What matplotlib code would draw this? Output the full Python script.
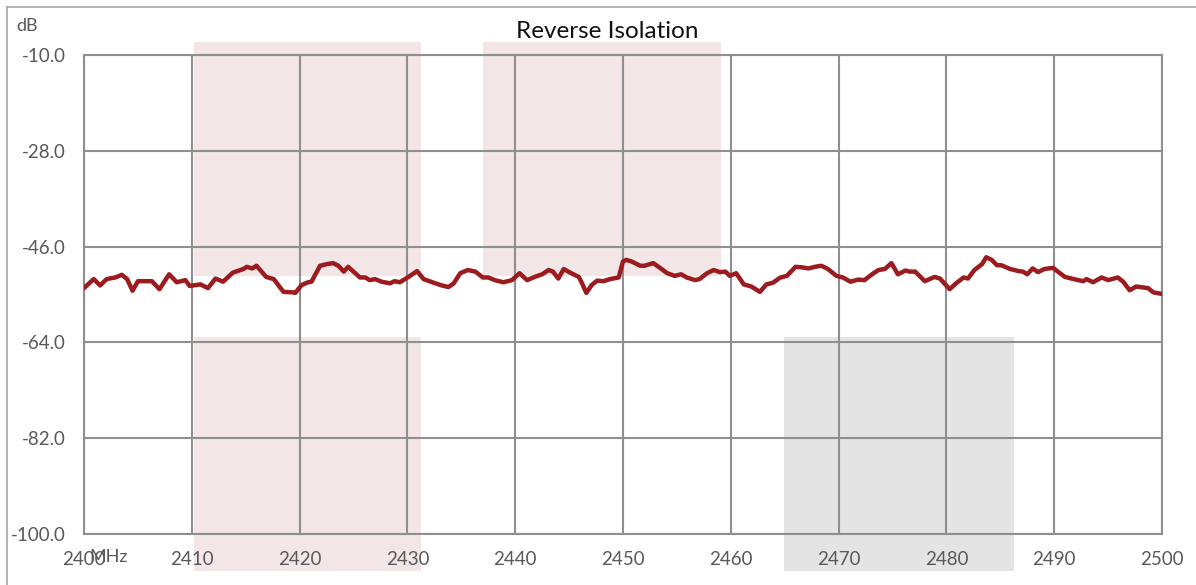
import matplotlib
matplotlib.use("Agg")
import matplotlib.pyplot as plt
from matplotlib.patches import Rectangle
from matplotlib.lines import Line2D

plt.rcParams['font.family'] = ['Lato', 'DejaVu Sans']

freq = [2400.0, 2400.9, 2401.5, 2402.1, 2402.9, 2403.5, 2404.0, 2404.5, 2405.0, 2406.3,
        2407.0, 2407.9, 2408.6, 2409.4, 2409.8, 2410.8, 2411.5, 2412.2, 2412.9, 2413.8,
        2414.8, 2415.1, 2415.6, 2416.0, 2416.9, 2417.6, 2418.5, 2419.4, 2419.6, 2420.2,
        2420.8, 2421.1, 2421.9, 2422.5, 2423.1, 2423.6, 2424.1, 2424.5, 2425.0, 2425.6,
        2426.1, 2426.5, 2427.0, 2427.6, 2428.4, 2428.8, 2429.3, 2430.1, 2430.9, 2431.5,
        2431.9, 2432.6, 2433.2, 2433.8, 2434.3, 2434.9, 2435.6, 2436.3, 2437.0, 2437.5,
        2438.1, 2438.9, 2439.7, 2440.4, 2441.1, 2441.8, 2442.5, 2443.1, 2443.5, 2444.0,
        2444.5, 2445.1, 2445.9, 2446.2, 2446.6, 2447.1, 2447.6, 2448.2, 2448.8, 2449.6,
        2450.0, 2450.3, 2450.8, 2451.6, 2452.0, 2452.8, 2453.3, 2454.1, 2454.8, 2455.4,
        2455.9, 2456.7, 2457.1, 2457.8, 2458.4, 2459.0, 2459.5, 2459.9, 2460.5, 2461.2,
        2461.9, 2462.7, 2463.3, 2463.9, 2464.6, 2465.2, 2466.0, 2466.6, 2467.2, 2467.8,
        2468.4, 2469.0, 2469.8, 2470.4, 2471.1, 2471.8, 2472.4, 2473.1, 2473.7, 2474.3,
        2474.9, 2475.5, 2476.2, 2476.6, 2477.1, 2478.0, 2478.9, 2479.4, 2480.3, 2480.9,
        2481.6, 2482.0, 2482.6, 2483.3, 2483.7, 2484.2, 2484.7, 2485.1, 2485.9, 2486.7,
        2487.1, 2487.5, 2488.0, 2488.5, 2489.1, 2489.9, 2490.4, 2491.0, 2491.8, 2492.7,
        2493.0, 2493.6, 2494.4, 2495.0, 2495.9, 2496.4, 2497.0, 2497.6, 2498.7, 2499.2,
        2500.0]
iso = [-53.8, -52.1, -53.3, -52.1, -51.8, -51.3, -52.1, -54.3, -52.5, -52.5,
       -54.0, -51.2, -52.7, -52.3, -53.4, -53.1, -53.8, -52.0, -52.6, -50.9,
       -50.2, -49.8, -50.1, -49.6, -51.7, -52.1, -54.5, -54.6, -54.7, -53.2,
       -52.7, -52.6, -49.6, -49.3, -49.1, -49.6, -50.7, -49.8, -50.7, -51.8,
       -51.8, -52.3, -52.1, -52.6, -52.9, -52.5, -52.7, -51.7, -50.6, -52.1,
       -52.4, -52.9, -53.3, -53.6, -52.9, -51.0, -50.4, -50.7, -51.8, -51.8,
       -52.3, -52.7, -52.3, -51.0, -52.3, -51.7, -51.2, -50.4, -50.7, -52.0,
       -50.2, -50.9, -51.7, -52.9, -54.7, -53.2, -52.4, -52.5, -52.1, -51.8,
       -48.8, -48.5, -48.8, -49.6, -49.6, -49.1, -49.8, -51.0, -51.5, -51.2,
       -51.8, -52.3, -52.1, -51.0, -50.4, -50.8, -50.7, -51.5, -51.0, -53.1,
       -53.5, -54.5, -53.1, -52.8, -51.8, -51.5, -49.8, -49.9, -50.1, -49.8,
       -49.6, -50.2, -51.5, -51.8, -52.6, -52.2, -52.3, -51.2, -50.4, -50.2,
       -49.1, -51.2, -50.5, -50.7, -50.7, -52.5, -51.7, -52.0, -54.0, -52.9,
       -51.8, -52.0, -50.4, -49.3, -48.0, -48.5, -49.5, -49.5, -50.2, -50.6,
       -50.7, -51.2, -50.1, -50.8, -50.2, -50.0, -50.8, -51.7, -52.1, -52.5,
       -52.1, -52.7, -51.8, -52.3, -51.8, -52.6, -54.2, -53.5, -53.8, -54.6,
       -54.9]

# shaded bands: (f_lo, f_hi, dB_lo, dB_hi)
band_f_lo = [2410.2, 2410.2, 2437.0, 2464.9]
band_f_hi = [2431.3, 2431.3, 2459.1, 2486.3]
band_db_lo = [-51.5, -107.0, -51.5, -107.0]
band_db_hi = [-7.6, -63.0, -7.6, -63.0]
band_colors = ['#F2E6E6', '#F2E6E6', '#F2E6E6', '#E4E4E4']

yticks = [-10, -28, -46, -64, -82, -100]
xticks = list(range(2400, 2501, 10))

grid_c = '#8F8F93'
text_c = '#595959'

fig = plt.figure(figsize=(11.96, 5.85), dpi=100)
ax = fig.add_axes([84/1196, 1-534/585, 1078/1196, 479/585])

for lo, hi, b, t, c in zip(band_f_lo, band_f_hi, band_db_lo, band_db_hi, band_colors):
    ax.add_patch(Rectangle((lo, b), hi-lo, t-b, facecolor=c, edgecolor='none',
                           zorder=1, clip_on=False))

ax.plot(freq, iso, color='#9B1B1F', lw=3.2, zorder=3,
        solid_joinstyle='round', solid_capstyle='round')

ax.set_xlim(2400, 2500)
ax.set_ylim(-100, -10)
ax.set_xticks(xticks)
ax.set_yticks(yticks)
ax.set_yticklabels(['%.1f' % v for v in yticks])
ax.grid(True, color=grid_c, lw=1.5)
for s in ax.spines.values():
    s.set_color(grid_c)
    s.set_linewidth(1.5)
ax.tick_params(length=0, labelsize=13.5, labelcolor=text_c)
ax.tick_params(axis='y', pad=13)
ax.tick_params(axis='x', pad=12)

fig.text(607/1196, 1-32/585, 'Reverse Isolation', fontsize=17.5, color='#111111',
         ha='center', va='center')
fig.text(16/1196, 1-26/585, 'dB', fontsize=13, color=text_c, va='center', ha='left')
fig.text(89/1196, 1-557/585, 'MHz', fontsize=13, color=text_c, va='center', ha='left')

# outer chart frame (left and top edges only visible)
fig.add_artist(Line2D([7/1196, 7/1196], [0, 1-7/585], color='#A6A6A6', lw=1.2,
                      transform=fig.transFigure))
fig.add_artist(Line2D([7/1196, 1], [1-7/585, 1-7/585], color='#A6A6A6', lw=1.2,
                      transform=fig.transFigure))

fig.savefig('out.png', dpi=100)
